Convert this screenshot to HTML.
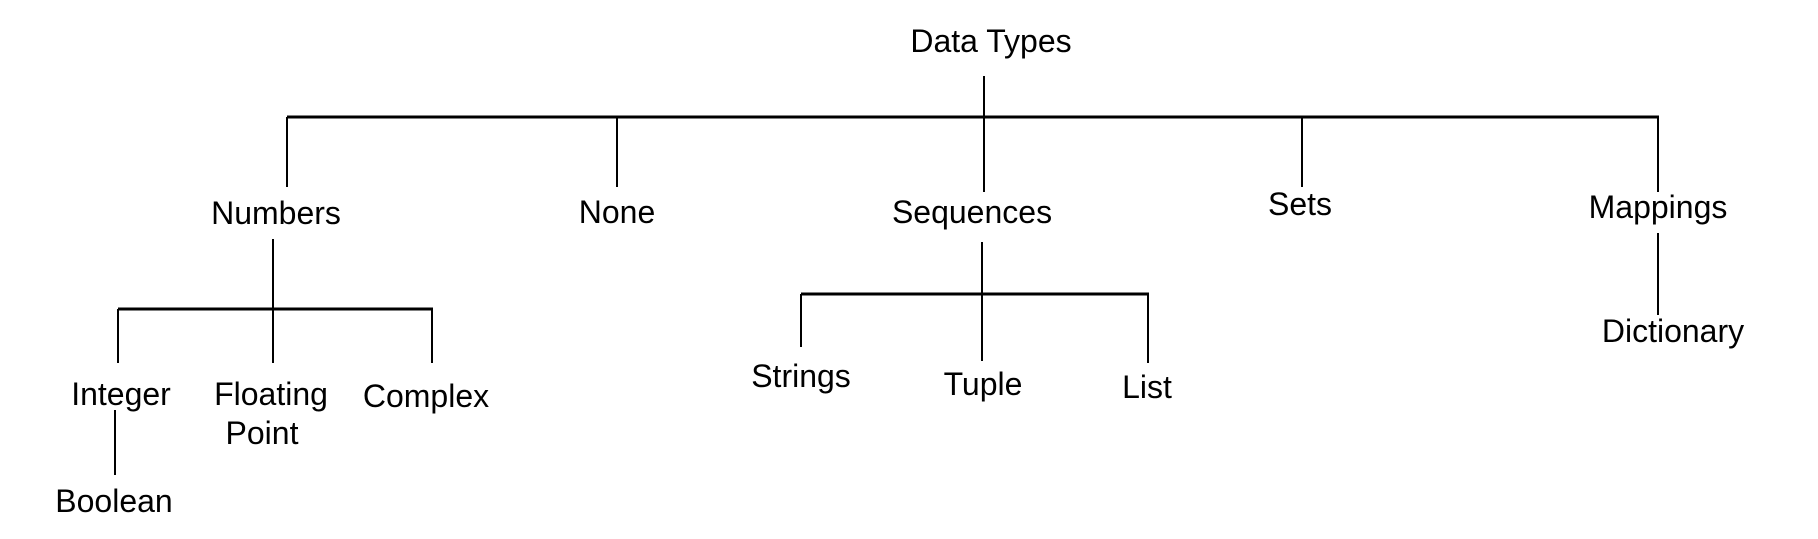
<!DOCTYPE html>
<html><head><meta charset="utf-8"><style>html,body{margin:0;padding:0;background:#fff}svg{display:block}</style></head>
<body>
<svg width="1818" height="539" viewBox="0 0 1818 539" xmlns="http://www.w3.org/2000/svg">
<g stroke="#000" stroke-width="2" fill="none">
<line x1="984" y1="76" x2="984" y2="117"/>
<line x1="287" y1="117" x2="1659" y2="117" stroke-width="3"/>
<line x1="287" y1="117" x2="287" y2="187"/>
<line x1="617" y1="117" x2="617" y2="187"/>
<line x1="984" y1="117" x2="984" y2="192"/>
<line x1="1302" y1="117" x2="1302" y2="187"/>
<line x1="1658" y1="117" x2="1658" y2="192"/>
<line x1="273" y1="239" x2="273" y2="363"/>
<line x1="118" y1="309" x2="433" y2="309" stroke-width="3"/>
<line x1="118" y1="309" x2="118" y2="363"/>
<line x1="432" y1="309" x2="432" y2="363"/>
<line x1="982" y1="242" x2="982" y2="361"/>
<line x1="801" y1="294" x2="1149" y2="294" stroke-width="3"/>
<line x1="801" y1="294" x2="801" y2="347"/>
<line x1="1148" y1="294" x2="1148" y2="363"/>
<line x1="115" y1="410" x2="115" y2="475"/>
<line x1="1658" y1="233" x2="1658" y2="315"/>
</g>
<g font-family="Liberation Sans, sans-serif" font-size="32" fill="#000" text-anchor="middle">
<text x="991" y="52">Data Types</text>
<text x="276" y="224">Numbers</text>
<text x="617" y="223">None</text>
<text x="972" y="223">Sequences</text>
<text x="1300" y="215">Sets</text>
<text x="1658" y="218">Mappings</text>
<text x="121" y="405">Integer</text>
<text x="271" y="405">Floating</text>
<text x="262" y="444">Point</text>
<text x="426" y="407">Complex</text>
<text x="114" y="512">Boolean</text>
<text x="801" y="387">Strings</text>
<text x="983" y="395">Tuple</text>
<text x="1147" y="398">List</text>
<text x="1673" y="342">Dictionary</text>
</g>
</svg>
</body></html>
